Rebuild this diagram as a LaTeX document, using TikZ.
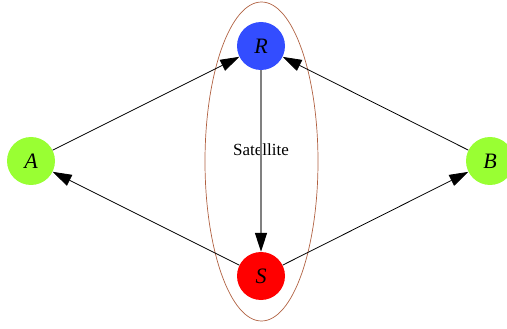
\documentclass[tikz,border=0pt]{standalone}
\usepackage{fontspec}
\setmainfont{Liberation Serif}
\usetikzlibrary{arrows.meta}
\definecolor{nodeblue}{RGB}{51,77,255}
\definecolor{nodegreen}{RGB}{153,255,51}
\definecolor{nodered}{RGB}{255,0,0}
\definecolor{ellcol}{RGB}{176,96,64}
\begin{document}
\begin{tikzpicture}[x=1pt,y=-1pt,
  vtx/.style={circle,minimum size=48pt,inner sep=0pt,font=\fontsize{22}{26}\selectfont\itshape},
  tip/.style={Triangle[length=19pt,width=12pt,fill=black,color=black]},
  edge/.style={draw=black,line width=0.8pt,-{Triangle[length=19pt,width=12pt]}}]
\useasboundingbox (0,0) rectangle (507,329);
\draw[ellcol,line width=0.7pt] (261.5,161.5) ellipse [x radius=56.5, y radius=159.5];
\node[vtx,fill=nodeblue] (R) at (261,46) {R};
\node[vtx,fill=nodered] (S) at (261,276) {S};
\node[vtx,fill=nodegreen] (A) at (31,161) {A};
\node[vtx,fill=nodegreen] (B) at (490,161) {B};
\node[font=\fontsize{17}{20}\selectfont] (lab) at (261,150) {Satellite};
\draw[edge] (A) -- (R);
\draw[edge] (B) -- (R);
\draw[edge] (S) -- (A);
\draw[edge] (S) -- (B);
\draw[line width=1.4pt,draw=gray,-{Triangle[length=19pt,width=12pt,fill=black,color=black]}] (R) -- (S);
\end{tikzpicture}
\end{document}
